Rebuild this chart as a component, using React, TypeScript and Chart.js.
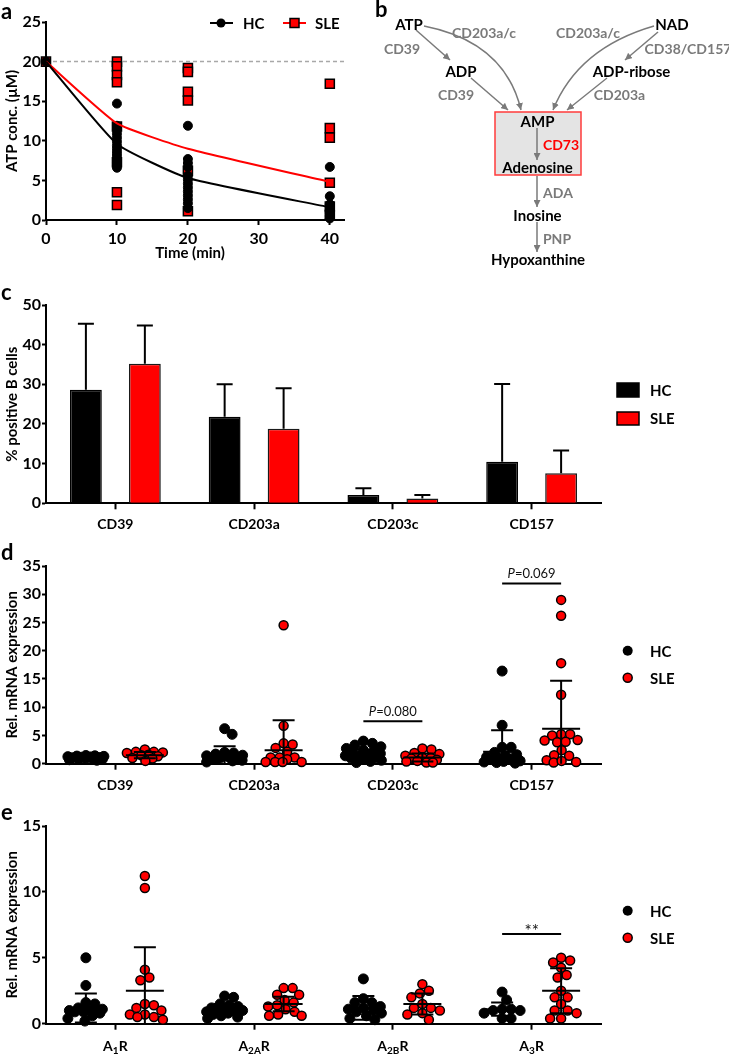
import React, { useEffect, useRef } from 'react';
import { Chart, registerables } from 'chart.js';

Chart.register(...registerables);

const FONT = 'Lato, "Open Sans", "DejaVu Sans", sans-serif';
const BLACK = '#000000';
const RED = '#ff0000';
const GREY = '#7a7a7a';

// ---------------- Panel a : ATP degradation ----------------
const timeMin = [0, 10, 20, 40];
const timeTicks = [0, 10, 20, 30, 40];
const atpBaseline = 20;
const hcMeanATP = [20, 9.6, 5.3, 1.6];
const sleMeanATP = [20, 12.2, 9.0, 4.8];
const hcATP0 = [20];
const hcATP10 = [14.7, 11.9, 11.4, 10.9, 10.4, 9.9, 9.4, 9.0, 8.6, 8.2, 7.8, 7.3, 6.9, 6.6];
const hcATP20 = [11.9, 7.7, 7.2, 6.7, 5.6, 5.1, 4.6, 4.1, 3.6, 3.1, 2.6, 2.1, 1.5];
const hcATP40 = [6.7, 3.0, 2.0, 1.3, 0.9, 0.5, 0.2];
const sleATP0 = [20];
const sleATP10 = [20.0, 19.4, 18.3, 17.4, 11.8, 7.3, 3.5, 1.9];
const sleATP20 = [19.2, 18.7, 16.2, 15.1, 6.2, 1.1];
const sleATP40 = [17.2, 11.6, 10.4, 4.7, 1.7, 0.6];

// ---------------- Panel c : % positive B cells ----------------
const markersC = ['CD39', 'CD203a', 'CD203c', 'CD157'];
const hcPctC = [28.6, 21.8, 2.1, 10.5];
const slePctC = [35.2, 18.8, 1.2, 7.6];
const hcUpperC = [45.3, 30.0, 3.8, 30.1];
const sleUpperC = [44.8, 29.0, 2.1, 13.3];

// ---------------- Panel d : ectoenzyme mRNA ----------------
const markersD = ['CD39', 'CD203a', 'CD203c', 'CD157'];
const hcCD39 = [1.45, 1.4, 1.35, 1.3, 1.25, 1.2, 1.15, 1.1, 1.05, 1.0, 0.95, 0.9, 0.85, 0.8, 0.7, 0.6];
const sleCD39 = [2.5, 2.1, 2.1, 2.0, 1.9, 1.6, 1.5, 1.3, 1.0, 0.9, 0.5];
const hcCD203a = [6.2, 5.2, 2.0, 1.9, 1.7, 1.5, 1.4, 1.2, 1.1, 1.0, 0.9, 0.8, 0.6, 0.5, 0.3];
const sleCD203a = [24.5, 6.7, 3.6, 3.4, 2.8, 2.1, 1.1, 1.1, 1.1, 0.8, 0.3, 0.3, 0.3, 0.3];
const hcCD203c = [4.0, 3.6, 3.3, 3.0, 2.7, 2.4, 2.2, 2.0, 1.8, 1.6, 1.4, 1.3, 1.1, 1.0, 0.8, 0.6, 0.4, 0.2];
const sleCD203c = [2.7, 2.5, 1.9, 1.7, 1.4, 1.1, 1.0, 0.9, 0.7, 0.5, 0.4, 0.2, 0.2];
const hcCD157 = [16.4, 6.8, 2.9, 2.9, 2.0, 1.6, 1.4, 1.2, 1.0, 0.8, 0.7, 0.5, 0.4, 0.3, 0.2, 0.1];
const sleCD157 = [29.0, 26.2, 17.8, 12.2, 5.2, 5.0, 5.2, 4.1, 3.8, 3.9, 4.2, 2.4, 1.5, 1.4, 0.6, 0.3, 0.2, 0.5];
const hcMeanD = [1.1, 1.4, 1.6, 2.1];
const hcSdD = [0.25, 1.7, 0.9, 3.8];
const sleMeanD = [1.5, 2.4, 1.1, 6.2];
const sleSdD = [0.55, 5.3, 0.7, 8.5];
const pCatD = [2, 3];
const pLevelD = [7.5, 31.9];
const pTextD = ['=0.080', '=0.069'];

// ---------------- Panel e : adenosine receptor mRNA ----------------
const receptorBase = 'A';
const receptorSubs = ['1', '2A', '2B', '3'];
const receptorSuffix = 'R';
const hcA1R = [5.0, 2.9, 1.6, 1.5, 1.2, 1.1, 1.0, 1.0, 1.0, 0.9, 0.9, 0.8, 0.6, 0.4, 0.2];
const sleA1R = [11.2, 10.3, 4.1, 3.5, 3.3, 1.5, 1.4, 1.2, 1.0, 0.7, 0.7, 0.5, 0.5, 0.3];
const hcA2AR = [2.1, 2.0, 1.5, 1.4, 1.3, 1.2, 1.1, 1.1, 1.0, 1.0, 0.9, 0.8, 0.7, 0.6, 0.5, 0.4];
const sleA2AR = [2.7, 2.7, 2.2, 2.2, 1.8, 1.6, 1.4, 1.3, 1.1, 0.9, 0.7, 0.6, 0.6];
const hcA2BR = [3.4, 1.9, 1.6, 1.6, 1.3, 1.2, 1.1, 1.0, 0.9, 0.8, 0.6, 0.4, 0.3];
const sleA2BR = [3.0, 2.5, 2.3, 2.0, 1.5, 1.2, 1.2, 1.0, 0.8, 0.7, 0.3];
const hcA3R = [2.4, 1.8, 1.1, 1.1, 1.0, 1.0, 0.8, 0.4, 0.4];
const sleA3R = [5.0, 4.8, 4.65, 4.25, 3.7, 3.5, 2.5, 2.0, 2.0, 1.5, 1.0, 1.0, 0.8, 0.4, 0.4];
const hcMeanE = [1.2, 1.1, 1.2, 1.1];
const hcSdE = [1.1, 0.4, 0.9, 0.5];
const sleMeanE = [2.5, 1.5, 1.5, 2.5];
const sleSdE = [3.3, 0.55, 0.8, 1.7];
const starCatE = 3;
const starLevelE = 6.8;
const starTextE = '**';

const GROUP_OFF = 0.2126;

function yAxis(max: number, step: number, title: string): any {
  return {
    type: 'linear',
    position: 'left',
    min: 0,
    max,
    ticks: { stepSize: step, color: BLACK, font: { family: FONT, size: 16, weight: 'bold' }, padding: 1 },
    grid: { display: true, drawOnChartArea: false, drawTicks: true, tickLength: 4, tickWidth: 2, tickColor: BLACK, color: BLACK },
    border: { display: true, color: BLACK, width: 2 },
    title: { display: true, text: title, color: BLACK, font: { family: FONT, size: 15, weight: 'bold' }, padding: { top: 3, bottom: 0 } },
    afterFit: (s: any) => { s.width = 46; },
  };
}

function swarmOffsets(values: number[], pxPerY: number, dc: number, maxOff: number): number[] {
  const order = values.map((_, i) => i).sort((a, b) => values[b] - values[a]);
  const placed: { x: number; y: number }[] = [];
  const res = new Array(values.length).fill(0);
  const cands: number[] = [0];
  for (let s = 1; s <= maxOff * 2; s++) cands.push(s / 2, -s / 2);
  for (const i of order) {
    const y = values[i] * pxPerY;
    let bestX = 0;
    let bestD = -1;
    for (const c of cands) {
      let minD = Infinity;
      for (const p of placed) {
        const d = Math.hypot(p.x - c, p.y - y);
        if (d < minD) minD = d;
      }
      if (minD >= dc) { bestX = c; break; }
      if (minD > bestD) { bestD = minD; bestX = c; }
    }
    placed.push({ x: bestX, y });
    res[i] = bestX;
  }
  return res;
}

function configA(): any {
  const hcPts = [hcATP0, hcATP10, hcATP20, hcATP40].flatMap((arr, i) => arr.map((v) => ({ x: timeMin[i], y: v })));
  const slePts = [sleATP0, sleATP10, sleATP20, sleATP40].flatMap((arr, i) => arr.map((v) => ({ x: timeMin[i], y: v })));
  const legendA = {
    id: 'legendA',
    afterDraw(chart: any) {
      const ctx = chart.ctx;
      ctx.save();
      const y = 23;
      ctx.lineWidth = 2;
      ctx.strokeStyle = BLACK;
      ctx.beginPath(); ctx.moveTo(210, y); ctx.lineTo(233, y); ctx.stroke();
      ctx.fillStyle = BLACK;
      ctx.beginPath(); ctx.arc(221, y, 4.5, 0, Math.PI * 2); ctx.fill();
      ctx.strokeStyle = RED;
      ctx.beginPath(); ctx.moveTo(283, y); ctx.lineTo(306, y); ctx.stroke();
      ctx.fillStyle = RED; ctx.strokeStyle = BLACK; ctx.lineWidth = 1.5;
      ctx.fillRect(290, y - 4.5, 9, 9); ctx.strokeRect(290, y - 4.5, 9, 9);
      ctx.fillStyle = BLACK;
      ctx.font = `bold 15px ${FONT}`;
      ctx.textBaseline = 'middle';
      ctx.textAlign = 'left';
      ctx.fillText('HC', 243, y + 1);
      ctx.fillText('SLE', 315, y + 1);
      // x-axis title
      ctx.textAlign = 'center';
      ctx.fillText('Time (min)', 190, 253);
      ctx.restore();
    },
  };
  return {
    type: 'scatter',
    data: {
      datasets: [
        { label: 'HC mean', data: timeMin.map((t, i) => ({ x: t, y: hcMeanATP[i] })), showLine: true, borderColor: BLACK, borderWidth: 2, pointRadius: 0, tension: 0.15, order: 0 },
        { label: 'SLE mean', data: timeMin.map((t, i) => ({ x: t, y: sleMeanATP[i] })), showLine: true, borderColor: RED, borderWidth: 2, pointRadius: 0, tension: 0.15, order: 0 },
        { label: 'HC', data: hcPts, pointStyle: 'circle', pointRadius: 4.5, backgroundColor: BLACK, borderColor: BLACK, borderWidth: 1, order: 1, clip: false },
        { label: 'SLE', data: slePts, pointStyle: 'rect', pointRadius: 6.4, backgroundColor: RED, borderColor: BLACK, borderWidth: 1.5, order: 2, clip: false },
        { label: 'start', data: [{ x: 0, y: atpBaseline }, { x: 42, y: atpBaseline }], showLine: true, borderColor: '#a8a8a8', borderWidth: 1.5, borderDash: [4, 3], pointRadius: 0, order: 5 },
      ],
    },
    options: {
      responsive: false,
      animation: false,
      layout: { padding: { left: 0, top: 22, right: 16, bottom: 0 } },
      plugins: { legend: { display: false }, tooltip: { enabled: false } },
      scales: {
        x: {
          type: 'linear',
          min: 0,
          max: 42,
          afterBuildTicks: (s: any) => { s.ticks = timeTicks.map((v) => ({ value: v })); },
          ticks: { color: BLACK, font: { family: FONT, size: 16, weight: 'bold' }, padding: 4, maxRotation: 0 },
          grid: { display: true, drawOnChartArea: false, drawTicks: true, tickLength: 5, tickWidth: 2, tickColor: BLACK, color: BLACK },
          border: { display: true, color: BLACK, width: 2 },
          title: { display: false },
          afterFit: (s: any) => { s.height = 50; },
        },
        y: yAxis(25, 5, 'ATP conc. (µM)'),
      },
    },
    plugins: [legendA],
  };
}

function configC(): any {
  const errC = {
    id: 'errC',
    afterDatasetsDraw(chart: any) {
      const { ctx } = chart;
      const y = chart.scales.y;
      ctx.save();
      ctx.strokeStyle = BLACK;
      ctx.lineWidth = 2;
      [hcUpperC, sleUpperC].forEach((ups, d) => {
        chart.getDatasetMeta(d).data.forEach((bar: any, i: number) => {
          const yt = y.getPixelForValue(ups[i]);
          ctx.beginPath();
          ctx.moveTo(bar.x, bar.y);
          ctx.lineTo(bar.x, yt);
          ctx.moveTo(bar.x - 8, yt);
          ctx.lineTo(bar.x + 8, yt);
          ctx.stroke();
        });
      });
      ctx.restore();
    },
  };
  const legendC = {
    id: 'legendC',
    afterDraw(chart: any) {
      const ctx = chart.ctx;
      ctx.save();
      ctx.lineWidth = 1.5;
      ctx.strokeStyle = BLACK;
      ctx.fillStyle = BLACK;
      ctx.fillRect(617, 113, 22, 14); ctx.strokeRect(617, 113, 22, 14);
      ctx.fillStyle = RED;
      ctx.fillRect(617, 142, 22, 13); ctx.strokeRect(617, 142, 22, 13);
      ctx.fillStyle = BLACK;
      ctx.font = `bold 15px ${FONT}`;
      ctx.textBaseline = 'middle';
      ctx.fillText('HC', 650, 121);
      ctx.fillText('SLE', 650, 149);
      ctx.restore();
    },
  };
  return {
    type: 'bar',
    data: {
      labels: markersC,
      datasets: [
        { label: 'HC', data: hcPctC, backgroundColor: BLACK, borderColor: BLACK, borderWidth: 1.5, categoryPercentage: 0.85, barPercentage: 0.54 },
        { label: 'SLE', data: slePctC, backgroundColor: RED, borderColor: '#1a1a1a', borderWidth: 1.5, categoryPercentage: 0.85, barPercentage: 0.54 },
      ],
    },
    options: {
      responsive: false,
      animation: false,
      layout: { padding: { left: 0, top: 35, right: 128, bottom: 0 } },
      plugins: { legend: { display: false }, tooltip: { enabled: false } },
      scales: {
        x: {
          type: 'category',
          offset: true,
          grid: { display: true, offset: false, drawOnChartArea: false, drawTicks: true, tickLength: 6, tickWidth: 2, tickColor: BLACK, color: BLACK },
          border: { display: true, color: BLACK, width: 2 },
          ticks: { color: BLACK, font: { family: FONT, size: 14, weight: 'bold' }, padding: 7, maxRotation: 0 },
          afterFit: (s: any) => { s.height = 36.7; },
        },
        y: yAxis(50, 10, '% positive B cells'),
      },
    },
    plugins: [errC, legendC],
  };
}

function scatterConfig(p: {
  hc: number[][]; sle: number[][]; hcMean: number[]; hcSd: number[]; sleMean: number[]; sleSd: number[];
  yMax: number; yStep: number; top: number; xh: number; pxPerY: number; names: string[] | null; legendY: number; extra: any[];
}): any {
  const pxPerX = 138.75;
  const mk = (groups: number[][], side: number) =>
    groups.flatMap((vals, i) => {
      const offs = swarmOffsets(vals, p.pxPerY, 9, 18);
      return vals.map((v, k) => ({ x: i + side * GROUP_OFF + offs[k] / pxPerX, y: v }));
    });
  const meanSd = {
    id: 'meanSd',
    afterDatasetsDraw(chart: any) {
      const { ctx, chartArea } = chart;
      const x = chart.scales.x;
      const y = chart.scales.y;
      ctx.save();
      ctx.strokeStyle = BLACK;
      ctx.lineWidth = 2;
      const draw = (cx: number, m: number, sd: number) => {
        const px = x.getPixelForValue(cx);
        const ym = y.getPixelForValue(m);
        const yt = y.getPixelForValue(m + sd);
        const yb = Math.min(y.getPixelForValue(m - sd), chartArea.bottom);
        ctx.beginPath();
        ctx.moveTo(px - 19, ym); ctx.lineTo(px + 19, ym);
        ctx.moveTo(px, yt); ctx.lineTo(px, yb);
        ctx.moveTo(px - 11, yt); ctx.lineTo(px + 11, yt);
        if (m - sd > 0) { ctx.moveTo(px - 11, yb); ctx.lineTo(px + 11, yb); }
        ctx.stroke();
      };
      p.hcMean.forEach((m, i) => draw(i - GROUP_OFF, m, p.hcSd[i]));
      p.sleMean.forEach((m, i) => draw(i + GROUP_OFF, m, p.sleSd[i]));
      ctx.restore();
    },
  };
  const legend = {
    id: 'legendDots',
    afterDraw(chart: any) {
      const ctx = chart.ctx;
      ctx.save();
      ctx.fillStyle = BLACK;
      ctx.beginPath(); ctx.arc(627.7, p.legendY, 5, 0, Math.PI * 2); ctx.fill();
      ctx.fillStyle = RED; ctx.strokeStyle = BLACK; ctx.lineWidth = 1.5;
      ctx.beginPath(); ctx.arc(627.7, p.legendY + 27, 4.5, 0, Math.PI * 2); ctx.fill(); ctx.stroke();
      ctx.fillStyle = BLACK;
      ctx.font = `bold 15px ${FONT}`;
      ctx.textBaseline = 'middle';
      ctx.fillText('HC', 650, p.legendY + 1);
      ctx.fillText('SLE', 650, p.legendY + 28);
      ctx.restore();
    },
  };
  const names = p.names;
  return {
    type: 'scatter',
    data: {
      datasets: [
        { label: 'HC', data: mk(p.hc, -1), pointStyle: 'circle', pointRadius: 5, backgroundColor: BLACK, borderColor: BLACK, borderWidth: 1, clip: false },
        { label: 'SLE', data: mk(p.sle, 1), pointStyle: 'circle', pointRadius: 4.5, backgroundColor: RED, borderColor: BLACK, borderWidth: 1.5, clip: false },
      ],
    },
    options: {
      responsive: false,
      animation: false,
      layout: { padding: { left: 0, top: p.top, right: 128, bottom: 0 } },
      plugins: { legend: { display: false }, tooltip: { enabled: false } },
      scales: {
        x: {
          type: 'linear',
          min: -0.5,
          max: 3.5,
          afterBuildTicks: (s: any) => { s.ticks = [0, 1, 2, 3].map((v) => ({ value: v })); },
          ticks: {
            color: BLACK,
            font: { family: FONT, size: 14, weight: 'bold' },
            padding: 7,
            maxRotation: 0,
            autoSkip: false,
            callback: (v: any) => (names ? names[Math.round(Number(v))] : ''),
          },
          grid: { display: true, drawOnChartArea: false, drawTicks: true, tickLength: 6, tickWidth: 2, tickColor: BLACK, color: BLACK },
          border: { display: true, color: BLACK, width: 2 },
          afterFit: (s: any) => { s.height = p.xh; },
        },
        y: yAxis(p.yMax, p.yStep, 'Rel. mRNA expression'),
      },
    },
    plugins: [meanSd, legend, ...p.extra],
  };
}

const pAnnotD = {
  id: 'pAnnotD',
  afterDraw(chart: any) {
    const { ctx } = chart;
    const x = chart.scales.x;
    const y = chart.scales.y;
    ctx.save();
    ctx.strokeStyle = BLACK;
    ctx.fillStyle = '#111';
    ctx.lineWidth = 2;
    pCatD.forEach((c, k) => {
      const x1 = x.getPixelForValue(c - GROUP_OFF);
      const x2 = x.getPixelForValue(c + GROUP_OFF);
      const yy = y.getPixelForValue(pLevelD[k]);
      ctx.beginPath(); ctx.moveTo(x1, yy); ctx.lineTo(x2, yy); ctx.stroke();
      ctx.font = `italic 13px ${FONT}`;
      const w1 = ctx.measureText('P').width;
      ctx.font = `13px ${FONT}`;
      const w2 = ctx.measureText(pTextD[k]).width;
      const sx = (x1 + x2) / 2 - (w1 + w2) / 2;
      ctx.textBaseline = 'middle';
      ctx.textAlign = 'left';
      ctx.font = `italic 13px ${FONT}`;
      ctx.fillText('P', sx, yy - 10);
      ctx.font = `13px ${FONT}`;
      ctx.fillText(pTextD[k], sx + w1, yy - 10);
    });
    ctx.restore();
  },
};

const annotE = {
  id: 'annotE',
  afterDraw(chart: any) {
    const { ctx, chartArea } = chart;
    const x = chart.scales.x;
    const y = chart.scales.y;
    ctx.save();
    ctx.strokeStyle = BLACK;
    ctx.fillStyle = '#111';
    ctx.lineWidth = 2;
    const x1 = x.getPixelForValue(starCatE - GROUP_OFF);
    const x2 = x.getPixelForValue(starCatE + GROUP_OFF);
    const yy = y.getPixelForValue(starLevelE);
    ctx.beginPath(); ctx.moveTo(x1, yy); ctx.lineTo(x2, yy); ctx.stroke();
    ctx.font = `17px ${FONT}`;
    ctx.textAlign = 'center';
    ctx.textBaseline = 'alphabetic';
    ctx.fillText(starTextE, (x1 + x2) / 2, yy + 3);
    // receptor labels with subscripts
    ctx.fillStyle = BLACK;
    ctx.textAlign = 'left';
    ctx.textBaseline = 'middle';
    receptorSubs.forEach((sub, i) => {
      const cx = x.getPixelForValue(i);
      ctx.font = `bold 14px ${FONT}`;
      const wA = ctx.measureText(receptorBase).width;
      const wR = ctx.measureText(receptorSuffix).width;
      ctx.font = `bold 10px ${FONT}`;
      const wS = ctx.measureText(sub).width;
      const total = wA + wS + wR;
      let sx = cx - total / 2;
      const ly = chartArea.bottom + 23;
      ctx.font = `bold 14px ${FONT}`;
      ctx.fillText(receptorBase, sx, ly);
      sx += wA;
      ctx.font = `bold 10px ${FONT}`;
      ctx.fillText(sub, sx, ly + 4);
      sx += wS;
      ctx.font = `bold 14px ${FONT}`;
      ctx.fillText(receptorSuffix, sx, ly);
    });
    ctx.restore();
  },
};

function Diagram() {
  const t = (txt: string, x: number, y: number, color: string, size: number) => (
    <text x={x} y={y} fill={color} fontSize={size} fontWeight="bold" textAnchor="middle" dominantBaseline="central" fontFamily={FONT}>{txt}</text>
  );
  const arrow = (d: string) => <path d={d} fill="none" stroke={GREY} strokeWidth={1.5} markerEnd="url(#ah)" />;
  return (
    <svg width={729} height={1054} style={{ position: 'absolute', left: 0, top: 0, pointerEvents: 'none' }}>
      <defs>
        <marker id="ah" viewBox="0 0 10 10" refX="10" refY="5" markerWidth="7" markerHeight="7" markerUnits="userSpaceOnUse" orient="auto">
          <path d="M0,0 L10,5 L0,10 z" fill={GREY} />
        </marker>
      </defs>
      {/* panel letters */}
      <text x={1} y={19} fontSize={22} fontWeight="bold" fontFamily={FONT} fill={BLACK}>a</text>
      <text x={375} y={17} fontSize={22} fontWeight="bold" fontFamily={FONT} fill={BLACK}>b</text>
      <text x={1} y={300} fontSize={22} fontWeight="bold" fontFamily={FONT} fill={BLACK}>c</text>
      <text x={1} y={560} fontSize={22} fontWeight="bold" fontFamily={FONT} fill={BLACK}>d</text>
      <text x={1} y={820} fontSize={22} fontWeight="bold" fontFamily={FONT} fill={BLACK}>e</text>
      {/* panel b */}
      <rect x={495} y={112} width={86} height={63} fill="#e4e4e4" stroke="#ff3b3b" strokeWidth={1.5} />
      {arrow('M416,30 L450,60')}
      {arrow('M424,26 Q505,42 521,110')}
      {arrow('M471,78 L508,110')}
      {arrow('M654,26 Q578,48 553,110')}
      {arrow('M658,32 L625,60')}
      {arrow('M607,78 L567,110')}
      {arrow('M537,128 L537,160')}
      {arrow('M537,176 L537,207')}
      {arrow('M537,222 L537,252')}
      {t('ATP', 409, 23.5, BLACK, 15)}
      {t('CD203a/c', 484, 32, GREY, 14)}
      {t('CD39', 402, 48, GREY, 14)}
      {t('ADP', 461, 70.5, BLACK, 15)}
      {t('CD39', 456, 94, GREY, 14)}
      {t('AMP', 537.5, 120.5, BLACK, 15)}
      {t('CD73', 561, 144, RED, 14)}
      {t('Adenosine', 537.5, 167, BLACK, 15)}
      {t('ADA', 558, 192, GREY, 14)}
      {t('Inosine', 537.5, 214.5, BLACK, 15)}
      {t('PNP', 557, 238, GREY, 14)}
      {t('Hypoxanthine', 538, 259, BLACK, 15)}
      {t('NAD', 672, 23.5, BLACK, 15)}
      {t('CD203a/c', 588, 32, GREY, 14)}
      {t('CD38/CD157', 688, 48, GREY, 14)}
      {t('ADP-ribose', 631.5, 70.5, BLACK, 15)}
      {t('CD203a', 619.5, 94, GREY, 14)}
    </svg>
  );
}

export default function App() {
  const refA = useRef<HTMLCanvasElement>(null);
  const refC = useRef<HTMLCanvasElement>(null);
  const refD = useRef<HTMLCanvasElement>(null);
  const refE = useRef<HTMLCanvasElement>(null);

  useEffect(() => {
    Chart.defaults.font.family = FONT;
    Chart.defaults.color = BLACK;
    const charts: Chart[] = [];
    charts.push(new Chart(refA.current as HTMLCanvasElement, configA()));
    charts.push(new Chart(refC.current as HTMLCanvasElement, configC()));
    charts.push(
      new Chart(
        refD.current as HTMLCanvasElement,
        scatterConfig({
          hc: [hcCD39, hcCD203a, hcCD203c, hcCD157],
          sle: [sleCD39, sleCD203a, sleCD203c, sleCD157],
          hcMean: hcMeanD, hcSd: hcSdD, sleMean: sleMeanD, sleSd: sleSdD,
          yMax: 35, yStep: 5, top: 26, xh: 31.3, pxPerY: 5.65, names: markersD, legendY: 110.7, extra: [pAnnotD],
        })
      )
    );
    charts.push(
      new Chart(
        refE.current as HTMLCanvasElement,
        scatterConfig({
          hc: [hcA1R, hcA2AR, hcA2BR, hcA3R],
          sle: [sleA1R, sleA2AR, sleA2BR, sleA3R],
          hcMean: hcMeanE, hcSd: hcSdE, sleMean: sleMeanE, sleSd: sleSdE,
          yMax: 15, yStep: 5, top: 31, xh: 30.3, pxPerY: 13.18, names: null, legendY: 115.7, extra: [annotE],
        })
      )
    );
    return () => charts.forEach((c) => c.destroy());
  }, []);

  const cs = (top: number, w: number, h: number): React.CSSProperties => ({ position: 'absolute', left: 0, top, width: w, height: h, display: 'block' });

  return (
    <div style={{ position: 'absolute', left: 0, top: 0, width: 729, height: 1054, background: '#fff', overflow: 'hidden' }}>
      <canvas ref={refA} width={360} height={270} style={cs(0, 360, 270)} />
      <canvas ref={refC} width={729} height={270} style={cs(270, 729, 270)} />
      <canvas ref={refD} width={729} height={255} style={cs(540, 729, 255)} />
      <canvas ref={refE} width={729} height={259} style={cs(795, 729, 259)} />
      <Diagram />
    </div>
  );
}
